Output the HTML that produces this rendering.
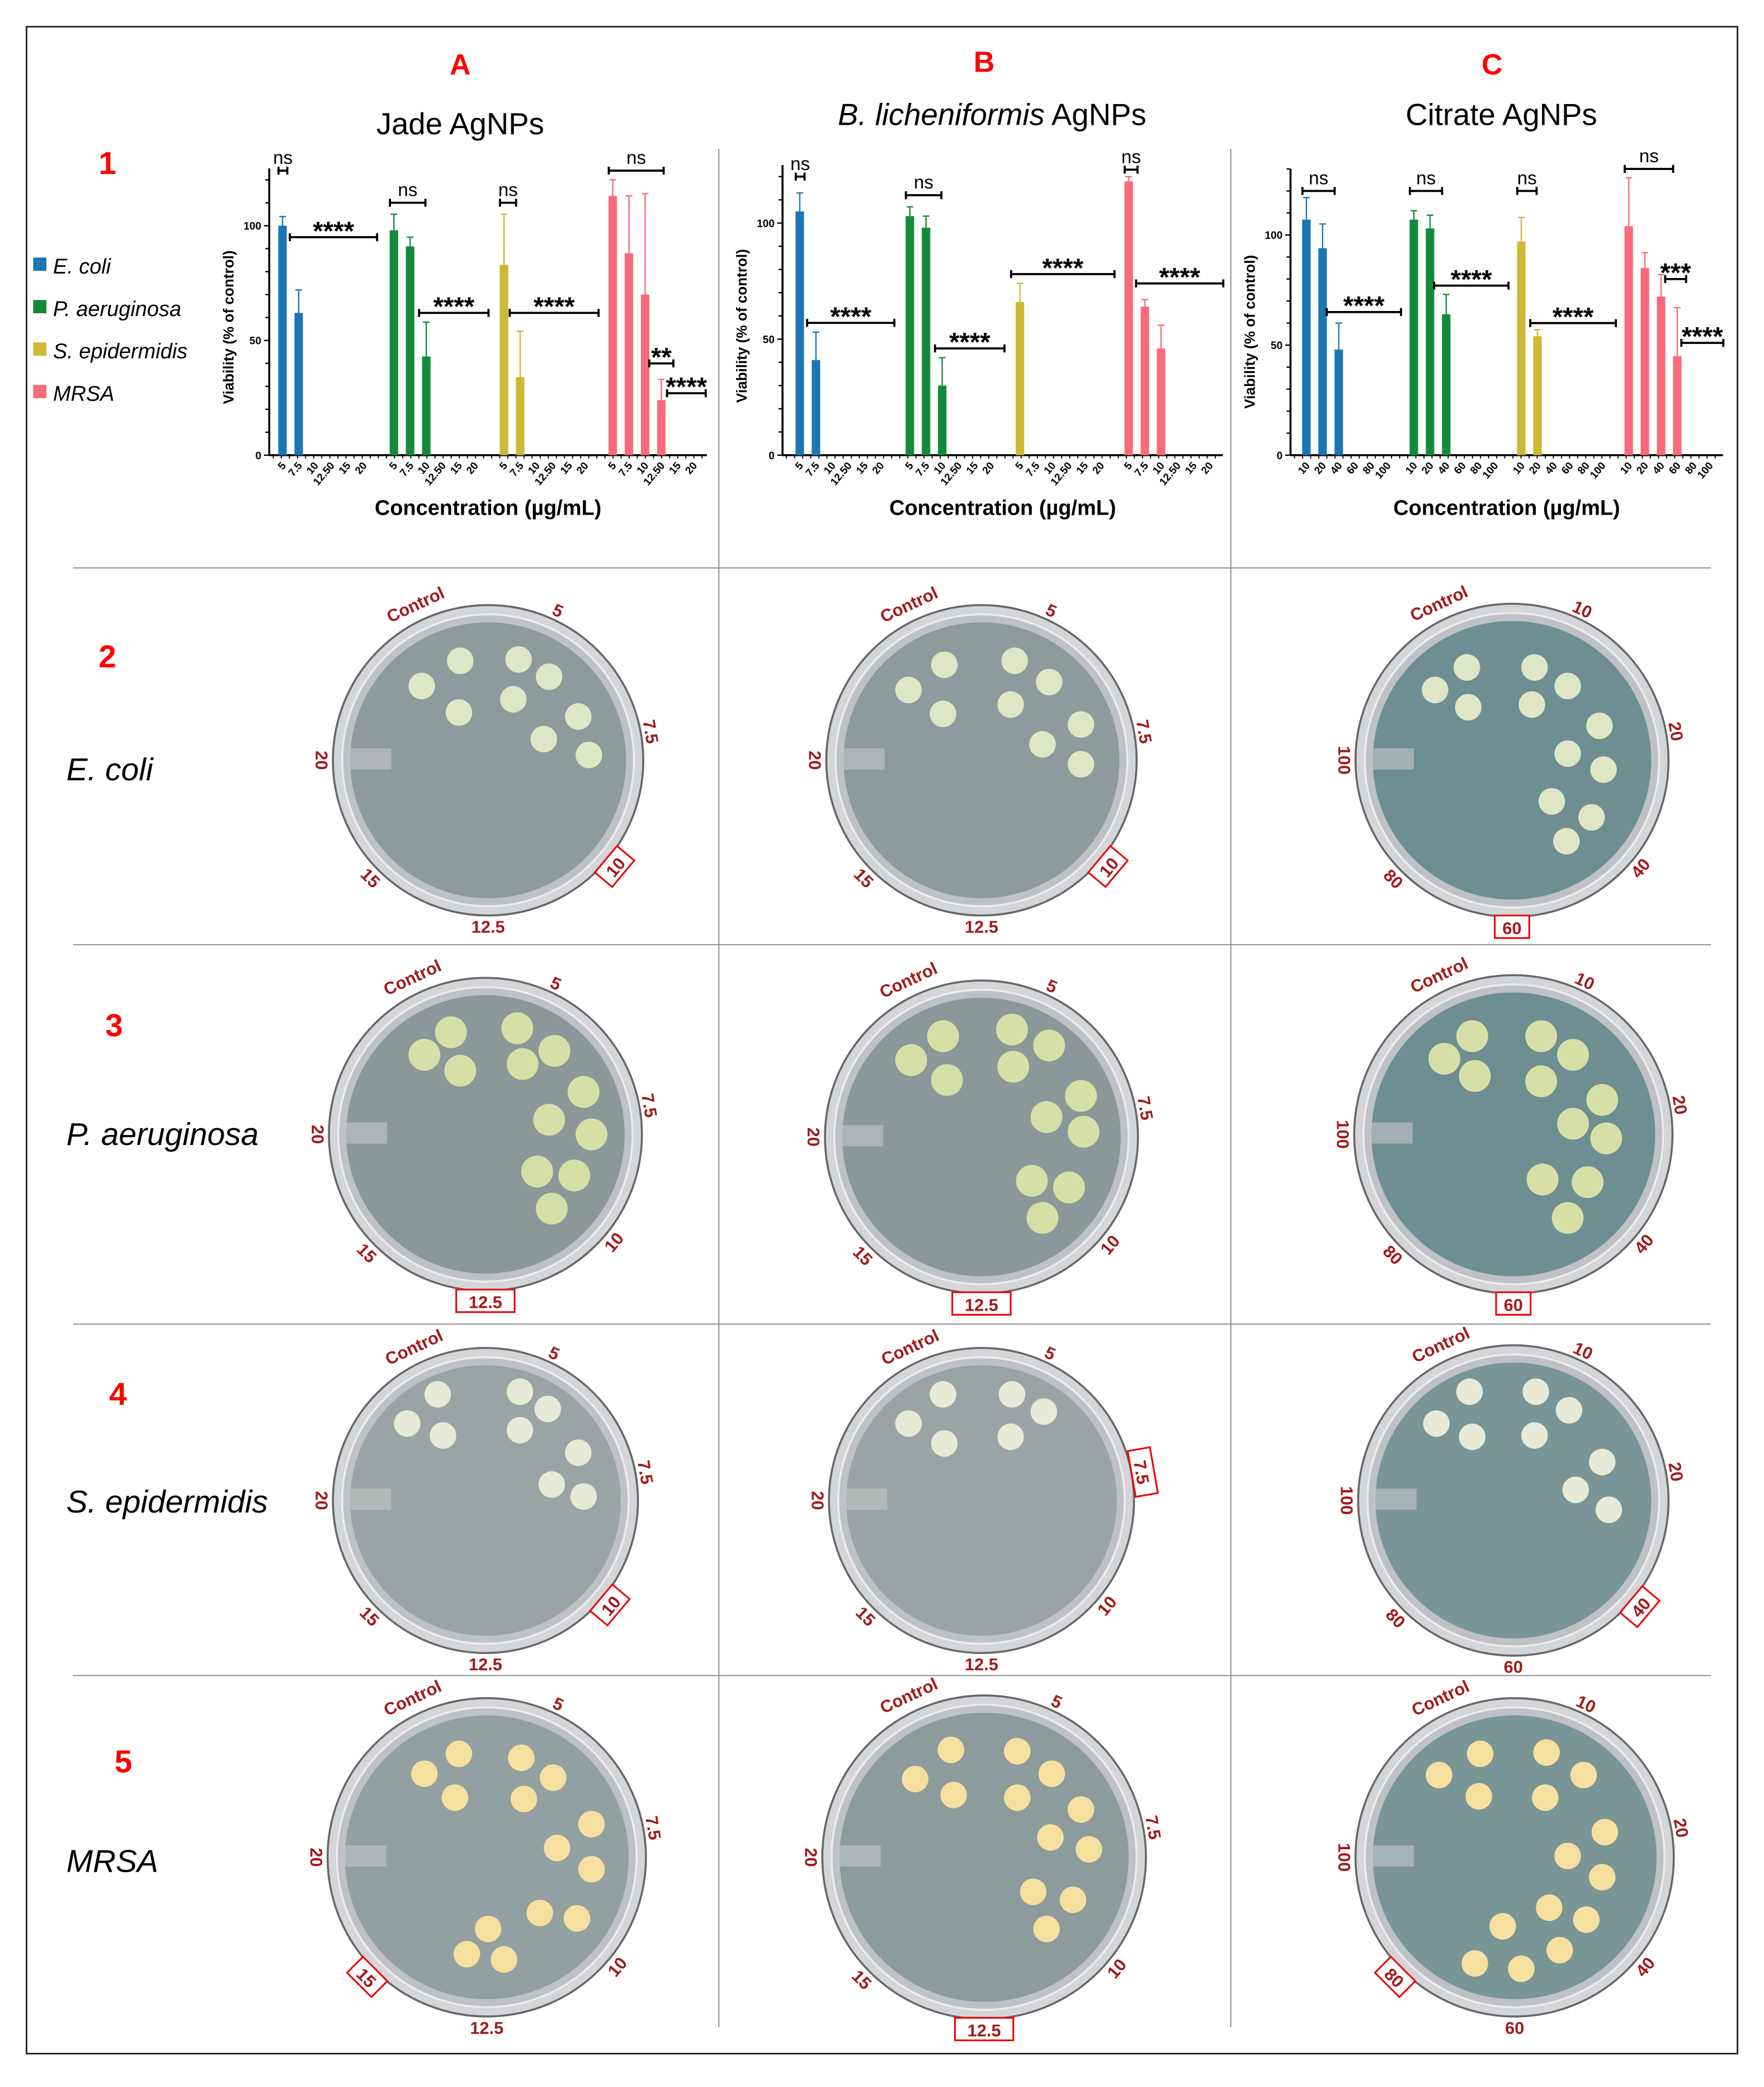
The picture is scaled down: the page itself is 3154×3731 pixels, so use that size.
<!DOCTYPE html>
<html><head><meta charset="utf-8">
<style>
html,body{margin:0;padding:0;background:#fff;}
svg{display:block;font-family:"Liberation Sans",Arial,sans-serif;}
</style></head>
<body>
<svg id="fig" width="3154" height="3731" viewBox="0 0 1330 1573" xmlns="http://www.w3.org/2000/svg">
<rect x="20" y="20" width="1290" height="1528" fill="#fff" stroke="#222" stroke-width="1.2"/>
<g stroke="#888" stroke-width="0.8">
<line x1="542" y1="112" x2="542" y2="1528"/><line x1="928" y1="112" x2="928" y2="1528"/>
<line x1="55" y1="428" x2="1290" y2="428"/><line x1="55" y1="712" x2="1290" y2="712"/>
<line x1="55" y1="998" x2="1290" y2="998"/><line x1="55" y1="1263" x2="1290" y2="1263"/>
</g>
<g font-size="22" text-anchor="middle">
<text x="347" y="56" fill="#f00" font-weight="bold">A</text>
<text x="742" y="54" fill="#f00" font-weight="bold">B</text>
<text x="1125" y="56" fill="#f00" font-weight="bold">C</text>
<text x="347" y="101" font-size="23">Jade AgNPs</text>
<text x="748" y="94" font-size="23"><tspan font-style="italic">B. licheniformis</tspan> AgNPs</text>
<text x="1132" y="94" font-size="23">Citrate AgNPs</text>
</g>
<g font-size="24" fill="#f00" font-weight="bold" text-anchor="middle">
<text x="81" y="131">1</text>
<text x="81" y="503">2</text>
<text x="86" y="781">3</text>
<text x="89" y="1059">4</text>
<text x="93" y="1336">5</text>
</g>
<g font-size="24" font-style="italic">
<text x="50" y="588">E. coli</text>
<text x="50" y="863">P. aeruginosa</text>
<text x="50" y="1140">S. epidermidis</text>
<text x="50" y="1411">MRSA</text>
</g>
<g font-size="16" font-style="italic">
<rect x="25" y="194" width="10" height="10" fill="#1b76b3"/><text x="40" y="206">E. coli</text>
<rect x="25" y="226" width="10" height="10" fill="#138a3a"/><text x="40" y="238">P. aeruginosa</text>
<rect x="25" y="258" width="10" height="10" fill="#cdb934"/><text x="40" y="270">S. epidermidis</text>
<rect x="25" y="290" width="10" height="10" fill="#f76b7b"/><text x="40" y="302">MRSA</text>
</g>
<g id="charts"></g>
<g id="plates"></g>
</svg>
<script>
const NS="http://www.w3.org/2000/svg";
const colors=["#1b76b3","#138a3a","#cdb934","#f76b7b"];
const speciesNames=["ecoli","paeruginosa","sepidermidis","mrsa"];
// Chart data
const catsAB=["5","7.5","10","12.50","15","20"];
const catsC=["10","20","40","60","80","100"];
const yTicks=[0,50,100];
const chartA_vals=[[100,62,0,0,0,0],[98,91,43,0,0,0],[83,34,0,0,0,0],[113,88,70,24,0,0]];
const chartA_err=[[4,10,0,0,0,0],[7,4,15,0,0,0],[22,20,0,0,0,0],[7,25,44,9,0,0]];
const chartB_vals=[[105,41,0,0,0,0],[103,98,30,0,0,0],[66,0,0,0,0,0],[118,64,46,0,0,0]];
const chartB_err=[[8,12,0,0,0,0],[4,5,12,0,0,0],[8,0,0,0,0,0],[2,3,10,0,0,0]];
const chartC_vals=[[107,94,48,0,0,0],[107,103,64,0,0,0],[97,54,0,0,0,0],[104,85,72,45,0,0]];
const chartC_err=[[10,11,12,0,0,0],[4,6,9,0,0,0],[11,3,0,0,0,0],[22,7,10,22,0,0]];
// significance annotations: [group, fromIdx, toIdx, level(value), label]
const sigA=[[0,0,0.05,124,"ns"],[0,0.7,5.6,95,"****"],[1,0,1.7,110,"ns"],[1,1.8,5.6,62,"****"],[2,0,0.5,110,"ns"],[2,0.6,5.6,62,"****"],[3,0,2.9,124,"ns"],[3,2.5,3.5,40,"**"],[3,3.6,5.5,27,"****"]];
const sigB=[[0,0,0.05,120,"ns"],[0,0.7,5.6,57,"****"],[1,0,1.7,112,"ns"],[1,1.8,5.6,46,"****"],[2,-0.3,5.6,78,"****"],[3,0,0.3,123,"ns"],[3,0.7,5.6,74,"****"]];
const sigC=[[0,0,1.5,120,"ns"],[0,1.5,5.6,65,"****"],[1,0,1.5,120,"ns"],[1,1.5,5.6,77,"****"],[2,0,0.7,120,"ns"],[2,0.8,5.6,60,"****"],[3,0,2.5,130,"ns"],[3,2.5,3.3,80,"***"],[3,3.5,5.6,51,"****"]];

function mk(tag,attrs,parent,name,inter){const e=document.createElementNS(NS,tag);for(const k in attrs)e.setAttribute(k,attrs[k]);


parent.appendChild(e);return e;}

function drawChart(id,axisX,y0,y100,groupStarts,cats,vals,errs,sigs,ymax){
  const root=document.getElementById('charts');
  const g=mk('g',{},root,'chart-'+id,false);
  const yS=v=>y0-(v/100)*(y0-y100);
  const step=12.2;
  const xS=(gi,ci)=>groupStarts[gi]+ci*step;
  const right=groupStarts[3]+5*step+10;
  mk('line',{x1:axisX,y1:y0,x2:axisX,y2:yS(ymax),stroke:'#000','stroke-width':1.5},g,'y-axis',false);
  mk('line',{x1:axisX,y1:y0,x2:right,y2:y0,stroke:'#000','stroke-width':1.5},g,'x-axis',false);
  for(let v=0;v<=ymax;v+=10){mk('line',{x1:axisX-(v%50==0?4:3),y1:yS(v),x2:axisX,y2:yS(v),stroke:'#000','stroke-width':1},g,'y-tick',false);}
  yTicks.forEach(t=>{const tx=mk('text',{x:axisX-6,y:yS(t)+3,'font-size':8,'font-weight':'bold','text-anchor':'end'},g,'y-tick-label',false);tx.textContent=t;});
  const yl=mk('text',{x:0,y:0,'font-size':11,'font-weight':'bold','text-anchor':'middle',transform:`translate(${axisX-27},${yS(50)-10}) rotate(-90)`},g,'y-axis-title',false);yl.textContent='Viability (% of control)';
  for(let x=axisX+3;x<right;x+=6.1)mk('line',{x1:x,y1:y0,x2:x,y2:y0+2.5,stroke:'#000','stroke-width':0.8},g,'x-minor-tick',false);
  vals.forEach((sv,gi)=>{
    sv.forEach((v,ci)=>{
      const x=xS(gi,ci);
      const lt=mk('text',{x:0,y:0,'font-size':8,'font-weight':'bold','text-anchor':'end',transform:`translate(${x+3},${y0+8}) rotate(-50)`},g,'x-tick-label',false);lt.textContent=cats[ci];
      if(v>0){
        mk('rect',{x:x-3.2,y:yS(v),width:6.4,height:y0-yS(v),fill:colors[gi]},g,'bar-'+speciesNames[gi]+'-'+cats[ci],false);
        const e=errs[gi][ci];
        if(e>0){mk('line',{x1:x,y1:yS(v),x2:x,y2:yS(v+e),stroke:colors[gi],'stroke-width':1},g,'error-bar',false);
        mk('line',{x1:x-2.5,y1:yS(v+e),x2:x+2.5,y2:yS(v+e),stroke:colors[gi],'stroke-width':1},g,'error-cap',false);}
      }
    });
  });
  sigs.forEach(s=>{
    const x1=xS(s[0],s[1])-3,x2=xS(s[0],s[2])+3,y=yS(s[3]);
    mk('path',{d:`M${x1},${y-3}V${y+3}M${x1},${y}H${x2}M${x2},${y-3}V${y+3}`,stroke:'#000','stroke-width':1.6,fill:'none'},g,'significance-bracket',false);
    const star=s[4]!=="ns";
    const t=mk('text',{x:(x1+x2)/2,y:star?y+2:y-5,'font-size':star?20:14,'font-weight':star?'bold':'normal','text-anchor':'middle'},g,'significance-label',false);t.textContent=s[4];
  });
  const xt=mk('text',{x:(axisX+right)/2,y:388,'font-size':16,'font-weight':'bold','text-anchor':'middle'},g,'x-axis-title',false);xt.textContent='Concentration (µg/mL)';
}
drawChart('a',203,343,170,[213,297,380,462],catsAB,chartA_vals,chartA_err,sigA,125);
drawChart('b',590,343,168,[603,686,769,851],catsAB,chartB_vals,chartB_err,sigB,125);
drawChart('c',973,343,177,[985,1066,1147,1228],catsC,chartC_vals,chartC_err,sigC,130);

// Plates
const plates=[
{n:'ecoli-a',cx:368,cy:573,r:117,bg:'#8e9a9c',col:'#dfe6c6',cr:10,set:'ab',box:'10',c:[[318,517],[347,498],[346,537],[391,497],[414,510],[387,527],[436,540],[410,557],[444,569]]},
{n:'ecoli-b',cx:740,cy:573,r:117,bg:'#8e9a9c',col:'#dfe6c6',cr:10,set:'ab',box:'10',c:[[685,520],[712,501],[711,538],[765,498],[791,514],[762,531],[815,546],[786,561],[815,576]]},
{n:'ecoli-c',cx:1140,cy:573,r:118,bg:'#6f8e91',col:'#dfe6c6',cr:10,set:'c',box:'60',c:[[1082,520],[1106,503],[1107,533],[1157,503],[1182,517],[1155,531],[1206,547],[1182,568],[1209,580],[1170,604],[1200,616],[1181,634]]},
{n:'paeruginosa-a',cx:366,cy:855,r:118,bg:'#8c9799',col:'#d6e0a6',cr:12,set:'ab',box:'12.5',c:[[320,795],[340,778],[347,807],[390,775],[418,792],[394,802],[440,823],[414,844],[446,855],[405,883],[433,886],[416,911]]},
{n:'paeruginosa-b',cx:740,cy:857,r:118,bg:'#8c9799',col:'#d6e0a6',cr:12,set:'ab',box:'12.5',c:[[687,799],[711,781],[714,814],[763,776],[791,788],[764,804],[815,826],[789,842],[817,853],[778,890],[806,895],[786,918]]},
{n:'paeruginosa-c',cx:1141,cy:855,r:120,bg:'#6f8e91',col:'#d6e0a6',cr:12,set:'c',box:'60',c:[[1089,798],[1110,781],[1112,811],[1162,781],[1186,795],[1162,815],[1208,829],[1186,847],[1211,858],[1163,889],[1197,891],[1182,918]]},
{n:'sepidermidis-a',cx:366,cy:1131,r:115,bg:'#9aa4a4',col:'#e6ead6',cr:10,set:'ab',box:'10',c:[[307,1073],[330,1051],[334,1082],[392,1049],[413,1062],[392,1078],[436,1095],[416,1119],[440,1128]]},
{n:'sepidermidis-b',cx:740,cy:1131,r:115,bg:'#9aa4a4',col:'#e6ead6',cr:10,set:'ab',box:'7.5',c:[[685,1073],[711,1051],[712,1088],[763,1051],[787,1064],[762,1083]]},
{n:'sepidermidis-c',cx:1141,cy:1131,r:117,bg:'#7a9596',col:'#e6ead6',cr:10,set:'c',box:'40',c:[[1083,1073],[1108,1049],[1110,1083],[1158,1049],[1183,1063],[1157,1082],[1208,1102],[1188,1123],[1213,1138]]},
{n:'mrsa-a',cx:367,cy:1400,r:120,bg:'#93a0a1',col:'#f6e0a0',cr:10,set:'ab',box:'15',c:[[320,1337],[346,1322],[343,1355],[393,1325],[417,1340],[395,1356],[446,1375],[420,1393],[446,1409],[407,1442],[435,1446],[368,1454],[352,1473],[380,1477]]},
{n:'mrsa-b',cx:742,cy:1400,r:122,bg:'#8c9b9c',col:'#f6e0a0',cr:10,set:'ab',box:'12.5',c:[[690,1341],[717,1319],[719,1353],[767,1320],[793,1337],[767,1355],[815,1364],[792,1385],[821,1394],[779,1426],[809,1432],[789,1454]]},
{n:'mrsa-c',cx:1142,cy:1400,r:120,bg:'#7a9596',col:'#f6e0a0',cr:10,set:'c',box:'80',c:[[1085,1338],[1116,1322],[1115,1354],[1166,1321],[1194,1338],[1165,1355],[1210,1381],[1182,1399],[1208,1415],[1168,1438],[1196,1447],[1133,1452],[1112,1480],[1147,1484],[1176,1470]]}
];
const labAB=["Control","5","7.5","10","12.5","15","20"];
const labC=["Control","10","20","40","60","80","100"];
const angles=[-115,-65,-10,40,90,135,180];
const pg=document.getElementById('plates');
plates.forEach(p=>{
  const g=mk('g',{},pg,'plate-'+p.n,false);
  mk('circle',{cx:p.cx,cy:p.cy,r:p.r,fill:'#d4d5d8',stroke:'#666','stroke-width':1.5},g,'plate-rim',false);
  mk('circle',{cx:p.cx,cy:p.cy,r:p.r-7,fill:'#bfc2c5',stroke:'#ececee','stroke-width':1.5},g,'plate-inner-rim',false);
  mk('circle',{cx:p.cx,cy:p.cy,r:p.r-13,fill:p.bg},g,'agar',false);
  mk('rect',{x:p.cx-p.r+12,y:p.cy-9,width:32,height:16,fill:'#c4c6c8',opacity:0.6},g,'plate-sticker',false);
  p.c.forEach(c=>mk('circle',{cx:c[0],cy:c[1],r:p.cr,fill:p.col},g,'colony',false));
  const labs=p.set==='ab'?labAB:labC;
  labs.forEach((l,i)=>{
    const a=angles[i]*Math.PI/180, rr=p.r+(i==0?13:8);
    const x=p.cx+rr*Math.cos(a), y=p.cy+rr*Math.sin(a);
    let rot=angles[i]+90; if(rot>90)rot-=180;
    const lg=mk('g',{transform:`translate(${x},${y}) rotate(${rot})`},g,'plate-label-group',false);
    if(l===p.box){mk('rect',{x:-l.length*4.5-4,y:-9,width:l.length*9+8,height:17,fill:'#fff',stroke:'#e00','stroke-width':1.3},lg,'highlight-box',false);}
    const t=mk('text',{x:0,y:5,'font-size':13,'font-weight':'bold',fill:'#a21a1a','text-anchor':'middle'},lg,'plate-label',false);t.textContent=l;
  });
});
</script>
</body></html>
